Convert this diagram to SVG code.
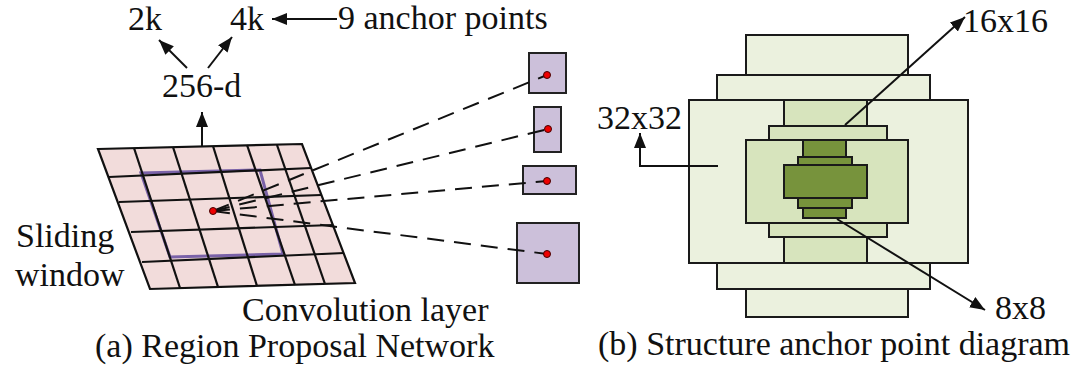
<svg xmlns="http://www.w3.org/2000/svg" width="1084" height="373" viewBox="0 0 1084 373">
<style>
text{font-family:'Liberation Serif','Times New Roman',Times,serif;font-size:34px;fill:#111}
.ln{stroke:#111;stroke-width:2;fill:none}
.gl{stroke:#111;stroke-width:2.2;fill:none}
.box{fill:#ccc0da;stroke:#222;stroke-width:2}
.dot{fill:#ee0000;stroke:#400;stroke-width:1}
.dash{stroke:#111;stroke-width:2;fill:none;stroke-dasharray:17 10}
.g1{fill:#ebf1de;stroke:#1a1a1a;stroke-width:2}
.g2{fill:#d7e4bd;stroke:#1a1a1a;stroke-width:2}
.g3{fill:#77933c;stroke:#1a1a1a;stroke-width:2}
</style>
<defs>
<marker id="ah" markerUnits="userSpaceOnUse" markerWidth="16" markerHeight="12" refX="15" refY="6" orient="auto">
<path d="M0,0 L15,6 L0,12 z" fill="#111"/>
</marker>
</defs>

<g id="grid">
<polygon points="98,149 302,144 355,283 150,289" fill="#f2dcdb" stroke="none"/>
<polygon points="141,173 260,170 283,254 170,257" fill="none" stroke="#7a62a8" stroke-width="3"/>
<g class="gl">
<line x1="109" y1="177" x2="311" y2="168"/>
<line x1="119" y1="202" x2="321" y2="195"/>
<line x1="131" y1="232" x2="333" y2="225"/>
<line x1="142" y1="262" x2="344" y2="253"/>
<line x1="134" y1="148" x2="180" y2="288"/>
<line x1="173" y1="147" x2="218" y2="287"/>
<line x1="213" y1="146" x2="257" y2="286"/>
<line x1="247" y1="145" x2="295" y2="285"/>
<line x1="277" y1="145" x2="325" y2="284"/>
<polygon points="98,149 302,144 355,283 150,289"/>
</g>
</g>

<g id="boxes">
<rect class="box" x="529" y="53" width="37" height="40"/>
<rect class="box" x="534" y="107" width="27" height="45"/>
<rect class="box" x="523" y="166" width="53" height="28"/>
<rect class="box" x="517" y="223" width="62" height="60"/>
</g>

<g id="connectors">
<line class="dash" x1="213" y1="211" x2="547" y2="75"/>
<line class="dash" x1="213" y1="211" x2="548" y2="129"/>
<line class="dash" x1="213" y1="211" x2="547" y2="181"/>
<line class="dash" x1="213" y1="211" x2="547" y2="254"/>
<line class="ln" x1="202" y1="146" x2="202" y2="112" marker-end="url(#ah)"/>
<line class="ln" x1="187" y1="68" x2="159" y2="40" marker-end="url(#ah)"/>
<line class="ln" x1="208" y1="68" x2="232" y2="37" marker-end="url(#ah)"/>
<line class="ln" x1="337" y1="19" x2="272" y2="19" marker-end="url(#ah)"/>
</g>

<g id="dots">
<circle class="dot" cx="213" cy="211" r="3.5"/>
<circle class="dot" cx="547" cy="75" r="3.5"/>
<circle class="dot" cx="548" cy="129" r="3.5"/>
<circle class="dot" cx="547" cy="181" r="3.5"/>
<circle class="dot" cx="547" cy="254" r="3.5"/>
</g>

<g id="labels-a">
<text x="128" y="30">2k</text>
<text x="230" y="30">4k</text>
<text x="338" y="29">9 anchor points</text>
<text x="162" y="97">256-d</text>
<text x="16" y="247">Sliding</text>
<text x="15" y="286">window</text>
<text x="242" y="321">Convolution layer</text>
<text x="95" y="357">(a) Region Proposal Network</text>
</g>

<g id="anchors">
<rect class="g1" x="746" y="35" width="162" height="282"/>
<rect class="g1" x="717" y="75" width="213" height="214"/>
<rect class="g1" x="689" y="100" width="279" height="163"/>
<rect class="g2" x="784" y="100" width="83" height="163"/>
<rect class="g2" x="769" y="126" width="118" height="111"/>
<rect class="g2" x="746" y="140" width="162" height="83"/>
<rect class="g3" x="803" y="140" width="43" height="78"/>
<rect class="g3" x="798" y="157" width="54" height="51"/>
<rect class="g3" x="784" y="165" width="83" height="33"/>
</g>

<g id="connectors-b">
<polyline class="ln" points="718,166 640,166 640,133" marker-end="url(#ah)"/>
<line class="ln" x1="845" y1="125" x2="965" y2="17" marker-end="url(#ah)"/>
<line class="ln" x1="837" y1="219" x2="985" y2="310" marker-end="url(#ah)"/>
</g>

<g id="labels-b">
<text x="597" y="129">32x32</text>
<text x="963" y="32">16x16</text>
<text x="995" y="319">8x8</text>
<text x="598" y="355">(b) Structure anchor point diagram</text>
</g>
</svg>
